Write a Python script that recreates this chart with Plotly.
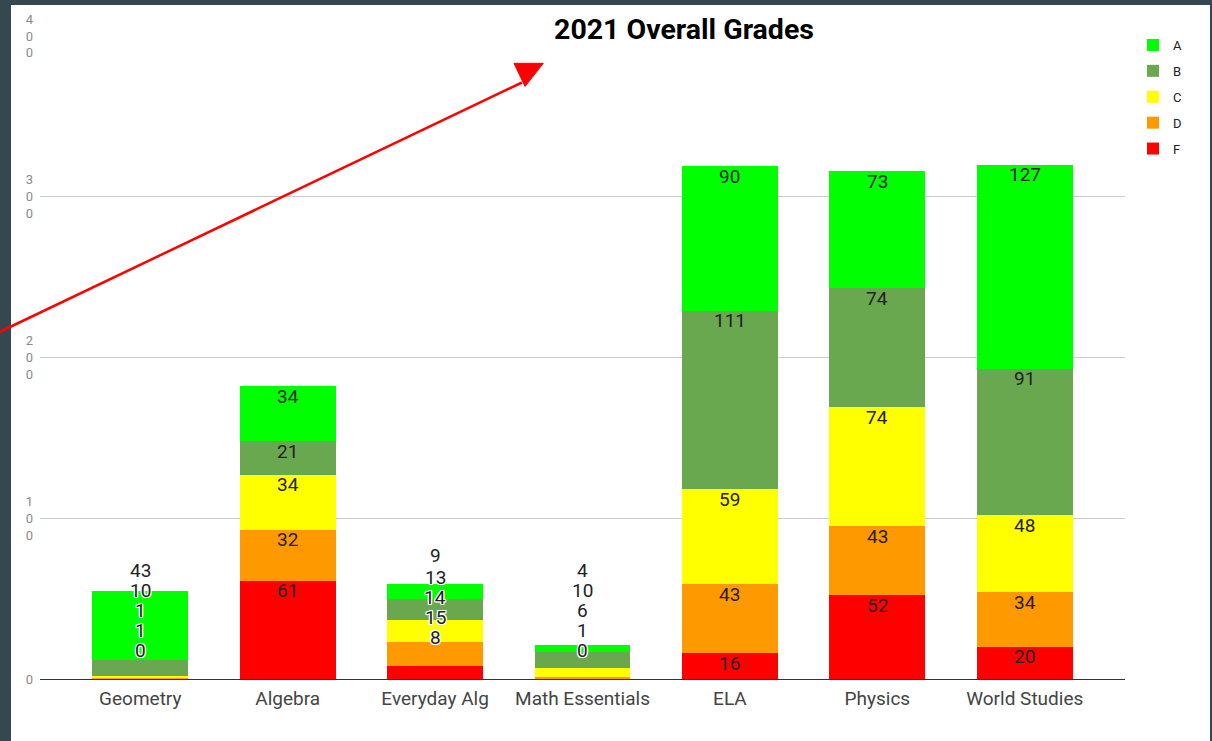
import plotly.graph_objects as go

# ---------------- data ----------------
categories = ["Geometry", "Algebra", "Everyday Alg", "Math Essentials", "ELA", "Physics", "World Studies"]
grades = ["F", "D", "C", "B", "A"]          # stacking order, bottom -> top
grade_F = [0, 61, 8, 0, 16, 52, 20]
grade_D = [1, 32, 15, 1, 43, 43, 34]
grade_C = [1, 34, 14, 6, 59, 74, 48]
grade_B = [10, 21, 13, 10, 111, 74, 91]
grade_A = [43, 34, 9, 4, 90, 73, 127]
y_tick_values = [0, 100, 200, 300, 400]
title_text = "2021 Overall Grades"

series = {"F": grade_F, "D": grade_D, "C": grade_C, "B": grade_B, "A": grade_A}
colors = {"A": "#00ff00", "B": "#6aa84f", "C": "#ffff00", "D": "#ff9900", "F": "#ff0000"}

# ---------------- geometry / style ----------------
W, H = 1212, 741
ML, MR, MT, MB = 40, 87, 36, 62
PW, PH = W - ML - MR, H - MT - MB
Y_MAX = 400
UNITS_PER_PX = Y_MAX / PH


def px_x(px):
    return (px - ML) / PW


def px_y(py):
    return (H - MB - py) / PH


fig = go.Figure()
for k, g in enumerate(grades):
    fig.add_trace(go.Bar(
        x=categories, y=series[g], name=g,
        marker=dict(color=colors[g], line=dict(width=0)),
        legendgroup=g, legendrank=100 - k, hoverinfo="x+y+name",
    ))

# ---------------- data labels (with simple overlap avoidance) ----------------
LABEL_H = 20 * UNITS_PER_PX        # label height
INSIDE_OFF = 10 * UNITS_PER_PX     # label centre below segment top when it fits
OUTSIDE_OFF = 29 * UNITS_PER_PX    # label centre above segment top when it does not
SEP = 20 * UNITS_PER_PX
HALO = ("1px 1px 0px white, -1px -1px 0px white, 1px -1px 0px white, "
        "-1px 1px 0px white, 0px 1px 0px white, 0px -1px 0px white, "
        "1px 0px 0px white, -1px 0px 0px white")
annotations = []
for i, cat in enumerate(categories):
    base = 0
    prev = None
    pos = []
    moved = False
    for g in grades:
        v = series[g][i]
        top = base + v
        if v >= LABEL_H:
            y = top - INSIDE_OFF
        else:
            y = top + OUTSIDE_OFF
            moved = True
        if prev is not None and y < prev + SEP:
            y = prev + SEP
            moved = True
        pos.append((v, y))
        prev = y
        base = top
    for v, y in pos:
        font = dict(family="Roboto", size=19, color="#222222")
        if moved:
            font["shadow"] = HALO
        annotations.append(dict(
            x=cat, y=y, xref="x", yref="y", text=str(v), showarrow=False,
            font=font, xanchor="center", yanchor="middle",
        ))

# ---------------- decoration: white card + red arrow ----------------
shapes = [
    dict(type="rect", xref="paper", yref="paper",
         x0=px_x(11), x1=px_x(1210), y0=px_y(746), y1=px_y(5),
         fillcolor="white", line=dict(width=0), layer="below"),
    dict(type="line", xref="paper", yref="paper",
         x0=px_x(-2), y0=px_y(332.7), x1=px_x(522), y1=px_y(82.5),
         line=dict(color="#ff0000", width=2.5), layer="above"),
    dict(type="path", xref="paper", yref="paper",
         path="M {} {} L {} {} L {} {} Z".format(px_x(514), px_y(63.3), px_x(543.3), px_y(63.3),
                                                  px_x(525), px_y(86.5)),
         fillcolor="#ff0000", line=dict(color="#ff0000", width=1), layer="above"),
]

tick_text = ["<br>".join(str(v)) for v in y_tick_values]

fig.update_layout(
    width=W, height=H,
    margin=dict(l=ML, r=MR, t=MT, b=MB, pad=0),
    paper_bgcolor="#37474f",
    plot_bgcolor="rgba(0,0,0,0)",
    barmode="stack",
    bargap=0.35,
    font=dict(family="Roboto", color="#222222"),
    title=dict(text="<b>" + title_text + "</b>", x=px_x(684), xref="paper", xanchor="center",
               y=1 - 29 / H, yref="container", yanchor="middle",
               font=dict(family="Roboto", size=28.5, color="#000000")),
    xaxis=dict(type="category", range=[-0.68, len(categories) - 1 + 0.68],
               showgrid=False, showline=False, ticks="", zeroline=False,
               ticklabelstandoff=6,
               tickfont=dict(family="Roboto", size=19, color="#444444")),
    yaxis=dict(range=[0, Y_MAX], tickvals=y_tick_values, ticktext=tick_text,
               showgrid=True, gridcolor="#cccccc", gridwidth=1,
               zeroline=True, zerolinecolor="#333333", zerolinewidth=1,
               showline=False, ticks="", ticklabelstandoff=6,
               tickfont=dict(family="Roboto", size=13, color="#8a8a8a")),
    legend=dict(x=px_x(1133), y=px_y(30), xanchor="left", yanchor="top",
                traceorder="grouped", tracegroupgap=6,
                bgcolor="rgba(0,0,0,0)",
                font=dict(family="Roboto", size=13, color="#222222")),
    annotations=annotations,
    shapes=shapes,
    showlegend=True,
)

fig.write_html("out.html", config={"displayModeBar": False},
               post_script="document.body.style.margin='0';document.body.style.overflow='hidden';")
